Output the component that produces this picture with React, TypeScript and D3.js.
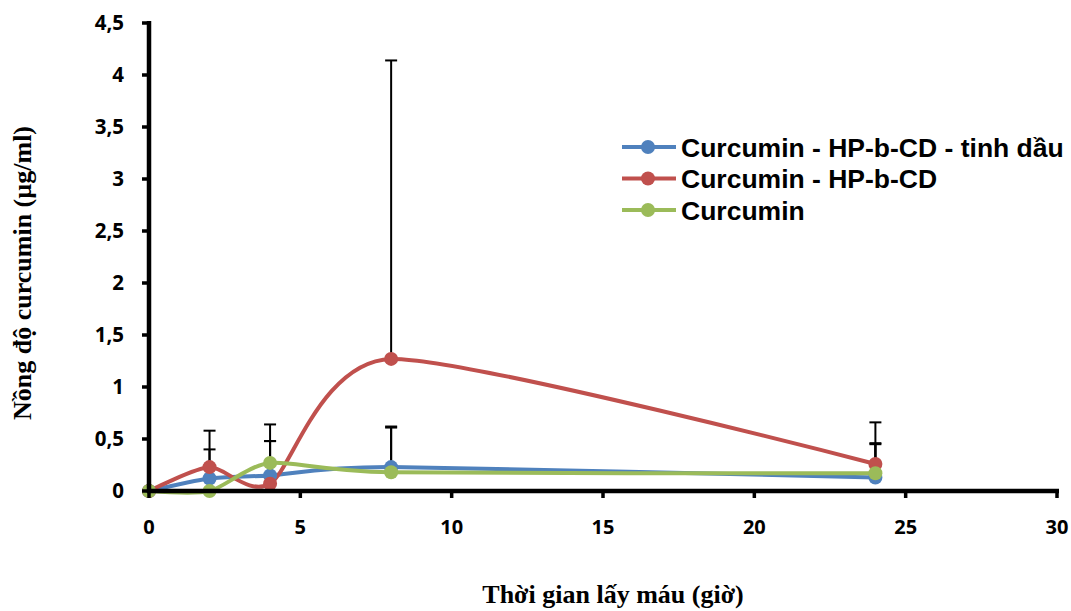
import { useEffect, useRef } from 'react';
import * as d3 from 'd3';

const hours = [0, 2, 4, 8, 24];
const seriesNames = ['Curcumin - HP-b-CD - tinh dầu', 'Curcumin - HP-b-CD', 'Curcumin'];
const blueValues = [0, 0.12, 0.15, 0.23, 0.13];
const redValues = [0, 0.23, 0.07, 1.27, 0.26];
const greenValues = [0, 0, 0.27, 0.18, 0.17];
const blueErrors = [0, 0.28, 0.33, 0.39, 0.33];
const redErrors = [0, 0.35, 0.41, 2.87, 0.4];
const greenErrors = [0, 0, 0.37, 0.43, 0.28];
const colors = ['#4F81BD', '#C0504D', '#9BBB59'];
const xTicks = [0, 5, 10, 15, 20, 25, 30];
const yTicks = [0, 0.5, 1, 1.5, 2, 2.5, 3, 3.5, 4, 4.5];

const W = 1071;
const H = 611;

export default function App() {
  const ref = useRef<SVGSVGElement>(null);

  useEffect(() => {
    const svg = d3.select(ref.current);
    svg.selectAll('*').remove();

    const x = d3.scaleLinear().domain([0, 30]).range([149, 1057]);
    const y = d3.scaleLinear().domain([0, 4.5]).range([491, 23]);

    const series = [
      { name: seriesNames[0], values: blueValues, errors: blueErrors, color: colors[0] },
      { name: seriesNames[1], values: redValues, errors: redErrors, color: colors[1] },
      { name: seriesNames[2], values: greenValues, errors: greenErrors, color: colors[2] },
    ];

    // error bars (upper only)
    const eb = svg.append('g');
    series.forEach((s) => {
      hours.forEach((h, i) => {
        if (s.errors[i] <= 0) return;
        const top = y(s.values[i] + s.errors[i]);
        eb.append('line')
          .attr('x1', x(h)).attr('x2', x(h))
          .attr('y1', y(s.values[i])).attr('y2', top)
          .attr('stroke', '#000').attr('stroke-width', 2);
        eb.append('line')
          .attr('x1', x(h) - 6).attr('x2', x(h) + 6)
          .attr('y1', top).attr('y2', top)
          .attr('stroke', '#000').attr('stroke-width', 2);
      });
    });

    const line = d3
      .line<number>()
      .x((_, i) => x(hours[i]))
      .y((d) => y(d))
      .curve(d3.curveCardinal.tension(0.3));

    series.forEach((s) => {
      svg.append('path')
        .attr('d', line(s.values))
        .attr('fill', 'none')
        .attr('stroke', s.color)
        .attr('stroke-width', 4);
    });
    series.forEach((s) => {
      svg.append('g')
        .selectAll('circle')
        .data(s.values)
        .enter()
        .append('circle')
        .attr('cx', (_, i) => x(hours[i]))
        .attr('cy', (d) => y(d))
        .attr('r', 7)
        .attr('fill', s.color);
    });

    // axes
    const ax = svg.append('g');
    ax.append('line').attr('x1', 149).attr('x2', 149).attr('y1', 21).attr('y2', 493)
      .attr('stroke', '#000').attr('stroke-width', 4.5);
    ax.append('line').attr('x1', 147).attr('x2', 1059).attr('y1', 491).attr('y2', 491)
      .attr('stroke', '#000').attr('stroke-width', 4.5);

    yTicks.forEach((t) => {
      ax.append('line').attr('x1', 142).attr('x2', 149).attr('y1', y(t)).attr('y2', y(t))
        .attr('stroke', '#000').attr('stroke-width', 3.5);
      ax.append('text')
        .attr('x', 124).attr('y', y(t)).attr('dy', '0.36em')
        .attr('text-anchor', 'end')
        .attr('font-family', 'Open Sans, sans-serif').attr('font-weight', 'bold')
        .attr('font-size', 20.5)
        .text(String(t).replace('.', ','));
    });
    xTicks.forEach((t) => {
      ax.append('line').attr('x1', x(t)).attr('x2', x(t)).attr('y1', 491).attr('y2', 498)
        .attr('stroke', '#000').attr('stroke-width', 3.5);
      ax.append('text')
        .attr('x', x(t)).attr('y', 534)
        .attr('text-anchor', 'middle')
        .attr('font-family', 'Open Sans, sans-serif').attr('font-weight', 'bold')
        .attr('font-size', 20)
        .text(String(t));
    });

    svg.append('text')
      .attr('x', 613).attr('y', 603)
      .attr('text-anchor', 'middle')
      .attr('font-family', 'Liberation Serif, serif').attr('font-weight', 'bold')
      .attr('font-size', 26)
      .text('Thời gian lấy máu (giờ)');
    svg.append('text')
      .attr('transform', 'translate(31,273) rotate(-90)')
      .attr('text-anchor', 'middle')
      .attr('font-family', 'Liberation Serif, serif').attr('font-weight', 'bold')
      .attr('font-size', 26)
      .text('Nồng độ curcumin (µg/ml)');

    // legend
    const lg = svg.append('g');
    series.forEach((s, i) => {
      const cy = 147 + i * 31.5;
      lg.append('line').attr('x1', 622).attr('x2', 676).attr('y1', cy).attr('y2', cy)
        .attr('stroke', s.color).attr('stroke-width', 4);
      lg.append('circle').attr('cx', 648).attr('cy', cy).attr('r', 7).attr('fill', s.color);
      lg.append('text')
        .attr('x', 681).attr('y', cy).attr('dy', '0.36em')
        .attr('font-family', 'Liberation Sans, Arial, sans-serif').attr('font-weight', 'bold')
        .attr('font-size', 26.5)
        .text(s.name);
    });
  }, []);

  return (
    <svg ref={ref} width={W} height={H} style={{ position: 'absolute', left: 0, top: 0, background: '#fff' }} />
  );
}
